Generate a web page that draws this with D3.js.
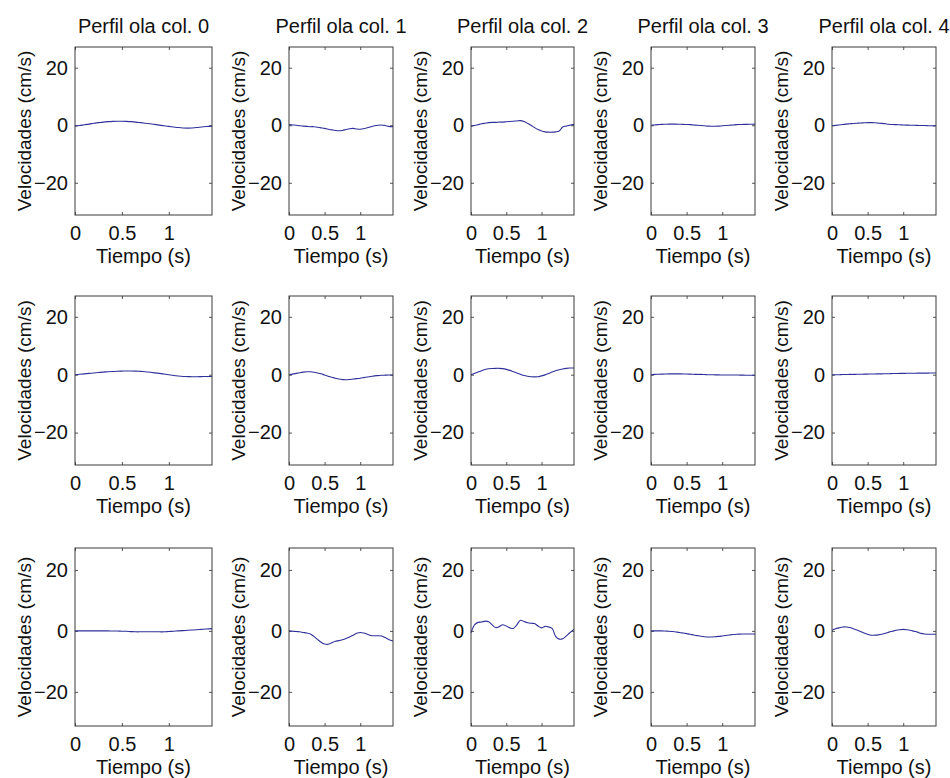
<!DOCTYPE html>
<html>
<head>
<meta charset="utf-8">
<script src="https://cdn.jsdelivr.net/npm/d3@7"></script>
<style>
  body { margin: 0; background: #fff; }
  svg { display: block; font-family: "Liberation Sans", Arial, sans-serif; }
  .tick line { stroke: #555; }
  .tick text { fill: #111; font-size: 20px; }
</style>
</head>
<body>
<div id="chart"></div>
<script>
// sample times (s), shared by every panel
const time = [0, 0.05, 0.1, 0.15, 0.2, 0.25, 0.3, 0.35, 0.4, 0.45, 0.5, 0.55, 0.6, 0.65, 0.7,
              0.75, 0.8, 0.85, 0.9, 0.95, 1.0, 1.05, 1.1, 1.15, 1.2, 1.25, 1.3, 1.35, 1.4, 1.46];

const columnTitles = ["Perfil ola col. 0", "Perfil ola col. 1", "Perfil ola col. 2", "Perfil ola col. 3", "Perfil ola col. 4"];
const xTicks = [0, 0.5, 1];
const xTickLabels = ["0", "0.5", "1"];
const yTicks = [-20, 0, 20];
const yDomain = [-31.2, 27.2];
const xDomain = [0, 1.46];

// velocities (cm/s), one array per panel: row r, column c
const row0col0 = [-0.3, -0.1, 0.2, 0.4, 0.7, 0.9, 1.1, 1.25, 1.35, 1.4, 1.4, 1.35, 1.25, 1.1, 0.9, 0.7, 0.5, 0.3, 0.05, -0.2, -0.4, -0.6, -0.8, -0.95, -1.0, -0.95, -0.8, -0.6, -0.45, -0.3];
const row0col1 = [0.2, 0.1, 0, -0.2, -0.3, -0.4, -0.5, -0.5, -0.7, -0.9, -1.1, -1.4, -1.6, -1.8, -1.9, -1.8, -1.5, -1.2, -1.1, -1.3, -1.4, -1.2, -0.9, -0.5, -0.2, 0.0, 0.1, -0.1, -0.4, -0.5];
const row0col2 = [-0.3, -0.1, 0.2, 0.5, 0.7, 0.9, 1.0, 1.0, 1.1, 1.1, 1.2, 1.3, 1.4, 1.5, 1.6, 1.3, 0.7, 0.0, -0.8, -1.5, -2.0, -2.3, -2.4, -2.4, -2.3, -2.0, -0.6, -0.3, 0.0, 0.3];
const row0col3 = [0, 0.1, 0.2, 0.3, 0.35, 0.4, 0.4, 0.4, 0.35, 0.3, 0.25, 0.2, 0.1, 0, -0.1, -0.2, -0.3, -0.35, -0.35, -0.3, -0.2, -0.1, 0, 0.1, 0.2, 0.25, 0.3, 0.3, 0.35, 0.4];
const row0col4 = [-0.2, -0.05, 0.1, 0.25, 0.4, 0.5, 0.6, 0.7, 0.8, 0.85, 0.9, 0.9, 0.85, 0.75, 0.65, 0.5, 0.35, 0.25, 0.2, 0.15, 0.1, 0.05, 0.0, 0.0, -0.05, -0.1, -0.1, -0.15, -0.2, -0.2];

const row1col0 = [0, 0.15, 0.3, 0.45, 0.6, 0.75, 0.9, 1.0, 1.1, 1.2, 1.25, 1.3, 1.3, 1.25, 1.15, 1.05, 0.85, 0.65, 0.45, 0.25, 0.0, -0.25, -0.45, -0.6, -0.65, -0.7, -0.7, -0.65, -0.6, -0.6];
const row1col1 = [0, 0.2, 0.45, 0.7, 0.9, 1.0, 1.0, 0.85, 0.6, 0.3, -0.1, -0.5, -0.9, -1.2, -1.5, -1.7, -1.75, -1.65, -1.5, -1.35, -1.2, -1.0, -0.8, -0.6, -0.4, -0.3, -0.2, -0.15, -0.1, -0.1];
const row1col2 = [0, 0.4, 0.9, 1.4, 1.8, 2.05, 2.15, 2.2, 2.2, 2.1, 1.85, 1.5, 1.05, 0.6, 0.15, -0.3, -0.55, -0.7, -0.75, -0.7, -0.4, -0.05, 0.4, 0.9, 1.35, 1.7, 2.0, 2.2, 2.3, 2.3];
const row1col3 = [0, 0.1, 0.15, 0.2, 0.25, 0.3, 0.3, 0.3, 0.3, 0.25, 0.25, 0.2, 0.15, 0.1, 0.1, 0.05, 0, 0, -0.05, -0.05, -0.1, -0.1, -0.1, -0.1, -0.1, -0.15, -0.15, -0.2, -0.2, -0.2];
const row1col4 = [0, 0, 0, 0.05, 0.05, 0.1, 0.1, 0.15, 0.15, 0.2, 0.2, 0.25, 0.25, 0.3, 0.3, 0.35, 0.35, 0.4, 0.4, 0.45, 0.45, 0.5, 0.5, 0.5, 0.55, 0.55, 0.55, 0.55, 0.6, 0.6];

const row2col0 = [0, 0, 0, 0, 0, 0, 0, 0, -0.05, -0.05, -0.1, -0.1, -0.25, -0.3, -0.3, -0.3, -0.3, -0.3, -0.3, -0.3, -0.2, -0.1, 0, 0.1, 0.2, 0.3, 0.4, 0.5, 0.6, 0.75];
const row2col1 = [0, -0.1, -0.2, -0.3, -0.5, -0.7, -1.0, -1.8, -2.8, -3.7, -4.3, -4.4, -3.9, -3.4, -3.2, -2.9, -2.5, -2.0, -1.4, -0.8, -0.5, -0.7, -1.1, -1.5, -1.6, -1.6, -1.7, -2.2, -2.8, -3.3];
const row2col2 = [-0.6, 2.0, 2.8, 2.9, 3.2, 3.0, 2.0, 1.1, 1.4, 2.0, 1.6, 1.0, 0.8, 2.0, 3.5, 3.1, 2.7, 2.5, 2.4, 1.6, 1.0, 1.5, 1.3, 0.8, -1.8, -2.7, -2.6, -1.7, -0.6, 0.5];
const row2col3 = [0, 0, 0, 0, -0.05, -0.1, -0.2, -0.35, -0.5, -0.7, -0.9, -1.1, -1.35, -1.55, -1.75, -1.9, -2.0, -2.0, -1.9, -1.8, -1.65, -1.5, -1.35, -1.2, -1.1, -1.05, -1.0, -1.0, -1.0, -1.0];
const row2col4 = [0.2, 0.7, 1.0, 1.3, 1.3, 1.1, 0.7, 0.3, -0.2, -0.7, -1.1, -1.4, -1.4, -1.3, -1.1, -0.8, -0.4, -0.1, 0.2, 0.4, 0.5, 0.4, 0.2, -0.1, -0.4, -0.8, -1.0, -1.1, -1.1, -1.1];

const panels = [
  [row0col0, row0col1, row0col2, row0col3, row0col4],
  [row1col0, row1col1, row1col2, row1col3, row1col4],
  [row2col0, row2col1, row2col2, row2col3, row2col4]
];

// subplot boxes (px)
const layout = {
  width: 950, height: 778,
  colLeft:  [75, 289, 471, 651, 832],
  colRight: [212, 393, 574, 755, 936],
  rowTop:    [47, 296, 548],
  rowBottom: [215, 465, 726]
};

const svg = d3.select("#chart").append("svg")
  .attr("width", layout.width)
  .attr("height", layout.height)
  .attr("viewBox", `0 0 ${layout.width} ${layout.height}`);

panels.forEach((row, r) => {
  row.forEach((values, c) => {
    const x0 = layout.colLeft[c], x1 = layout.colRight[c];
    const y0 = layout.rowTop[r], y1 = layout.rowBottom[r];
    const w = x1 - x0, h = y1 - y0;

    const x = d3.scaleLinear().domain(xDomain).range([0, w]);
    const y = d3.scaleLinear().domain(yDomain).range([h, 0]);

    const g = svg.append("g").attr("transform", `translate(${x0},${y0})`);

    g.append("rect")
      .attr("width", w).attr("height", h)
      .attr("fill", "#fff");

    // axes: ticks point inward on all four sides
    g.append("g")
      .attr("transform", `translate(0,${h})`)
      .call(d3.axisBottom(x).tickValues(xTicks).tickSize(-3).tickPadding(11)
        .tickFormat((d, i) => xTickLabels[i]))
      .call(a => a.select(".domain").remove());
    g.append("g")
      .call(d3.axisTop(x).tickValues(xTicks).tickSize(-3).tickFormat(""))
      .call(a => a.select(".domain").remove());
    g.append("g")
      .call(d3.axisLeft(y).tickValues(yTicks).tickSize(-3).tickPadding(7))
      .call(a => a.select(".domain").remove());
    g.append("g")
      .attr("transform", `translate(${w},0)`)
      .call(d3.axisRight(y).tickValues(yTicks).tickSize(-3).tickFormat(""))
      .call(a => a.select(".domain").remove());
    g.selectAll(".tick text").attr("font-family", null).attr("font-size", null);

    const line = d3.line()
      .x((d, i) => x(time[i]))
      .y(d => y(d))
      .curve(d3.curveCatmullRom);

    g.append("path")
      .datum(values)
      .attr("fill", "none")
      .attr("stroke", "#30309a")
      .attr("stroke-width", 1.1)
      .attr("d", line);

    g.append("rect")
      .attr("width", w).attr("height", h)
      .attr("fill", "none")
      .attr("stroke", "#3a3a3a")
      .attr("stroke-width", 1);

    // labels
    g.append("text")
      .attr("x", w / 2).attr("y", h + 48)
      .attr("text-anchor", "middle")
      .attr("font-size", 20)
      .attr("fill", "#111")
      .text("Tiempo (s)");

    g.append("text")
      .attr("transform", `translate(-44,${h / 2}) rotate(-90)`)
      .attr("text-anchor", "middle")
      .attr("font-size", 19)
      .attr("fill", "#111")
      .text("Velocidades (cm/s)");

    if (r === 0) {
      g.append("text")
        .attr("x", w / 2).attr("y", -14)
        .attr("text-anchor", "middle")
        .attr("font-size", 20)
        .attr("fill", "#111")
        .text(columnTitles[c]);
    }
  });
});
</script>
</body>
</html>
